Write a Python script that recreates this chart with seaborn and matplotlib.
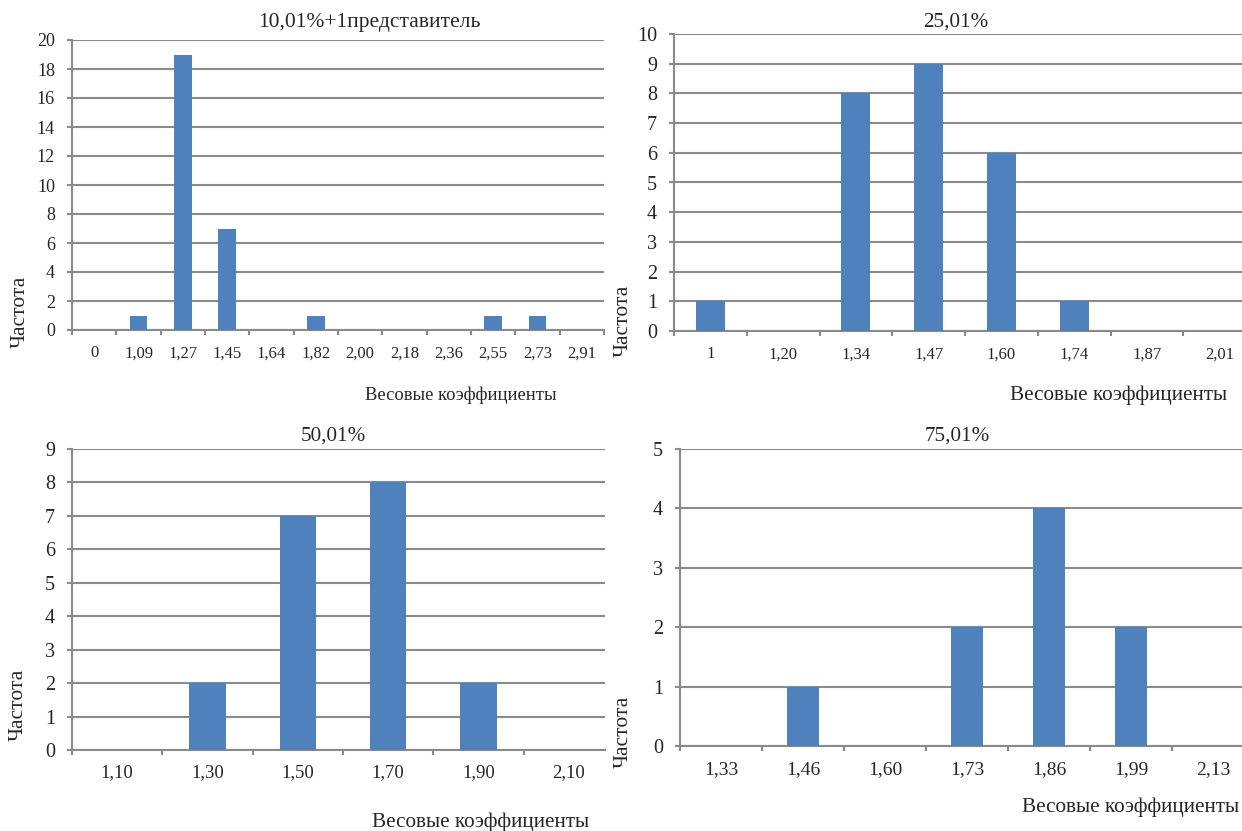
import matplotlib
matplotlib.use("Agg")
import matplotlib.pyplot as plt
import numpy as np
import seaborn as sns
from matplotlib.ticker import FixedLocator

sns.set_style("white")
plt.rcParams["font.family"] = ["Liberation Serif", "DejaVu Serif"]

# --- data ---
labels_10 = ["0", "1,09", "1,27", "1,45", "1,64", "1,82", "2,00", "2,18", "2,36", "2,55", "2,73", "2,91"]
counts_10 = [0, 1, 19, 7, 0, 1, 0, 0, 0, 1, 1, 0]

labels_25 = ["1", "1,20", "1,34", "1,47", "1,60", "1,74", "1,87", "2,01"]
counts_25 = [1, 0, 8, 9, 6, 1, 0, 0]

labels_50 = ["1,10", "1,30", "1,50", "1,70", "1,90", "2,10"]
counts_50 = [0, 2, 7, 8, 2, 0]

labels_75 = ["1,33", "1,46", "1,60", "1,73", "1,86", "1,99", "2,13"]
counts_75 = [0, 1, 0, 2, 4, 2, 0]

titles = ["10,01%+1представитель", "25,01%", "50,01%", "75,01%"]
xlab = "Весовые коэффициенты"
ylab = "Частота"

BAR = "#4F81BD"
GRID = "#8A8A8A"
W, H = 1242, 831

fig = plt.figure(figsize=(W / 100, H / 100), dpi=100)


def px_axes(left, right, top, bottom):
    return fig.add_axes([left / W, 1 - bottom / H, (right - left) / W, (bottom - top) / H])


def draw(ax, labels, counts, ymax, ystep, xmax, ytick_size, xtick_size, xpad):
    sns.barplot(x=labels, y=counts, order=labels, color=BAR, width=0.4,
                saturation=1, linewidth=0, ax=ax, zorder=3)
    ax.set_ylim(0, ymax)
    ax.set_xlim(-0.5, xmax)
    ax.set_yticks(np.arange(0, ymax + 0.01, ystep))
    ax.yaxis.grid(True, color=GRID, lw=1.5)
    ax.set_axisbelow(True)
    for s in ["top", "right"]:
        ax.spines[s].set_visible(False)
    for s in ["left", "bottom"]:
        ax.spines[s].set_color(GRID)
        ax.spines[s].set_linewidth(1.5)
    ax.xaxis.set_minor_locator(FixedLocator(np.arange(-0.5, len(labels), 1.0)))
    ax.tick_params(axis="x", which="major", bottom=True, length=0, pad=xpad,
                   labelsize=xtick_size)
    ax.tick_params(axis="x", which="minor", bottom=True, length=3.8, width=1.5,
                   color=GRID, direction="out")
    ax.tick_params(axis="y", left=True, length=3.8, width=1.5, color=GRID,
                   direction="out", pad=8.5, labelsize=ytick_size)
    ax.set_xlabel("")
    ax.set_ylabel("")


ax1 = px_axes(72, 604, 40, 330)
draw(ax1, labels_10, counts_10, 20, 2, 11.5, 13, 12, 11)
ax2 = px_axes(674, 1256, 34, 331)
draw(ax2, labels_25, counts_25, 10, 1, 7.5, 14.5, 12, 11)
ax3 = px_axes(72, 605, 449, 750)
draw(ax3, labels_50, counts_50, 9, 1, 5.4, 14.5, 13.5, 10)
ax4 = px_axes(680, 1254, 449, 746)
draw(ax4, labels_75, counts_75, 5, 1, 6.5, 14.5, 14, 11)


def ftext(x, y, s, size, **kw):
    fig.text(x / W, 1 - y / H, s, ha="center", va="center", fontsize=size, **kw)


# titles
ftext(369, 22, titles[0], 15.5)
ftext(956, 22, titles[1], 15.2)
ftext(333, 436, titles[2], 15.2)
ftext(957, 436, titles[3], 15.2)

# x labels
ftext(461, 395, xlab, 13.4)
ftext(1119, 395, xlab, 15.3)
ftext(481, 822, xlab, 15.3)
ftext(1131, 807, xlab, 15.3)

# y labels
ftext(20, 312, ylab, 15.5, rotation=90)
ftext(623, 321, ylab, 15.5, rotation=90)
ftext(18, 705, ylab, 15.5, rotation=90)
ftext(623, 732, ylab, 15.5, rotation=90)

fig.savefig("out.png", dpi=100)
